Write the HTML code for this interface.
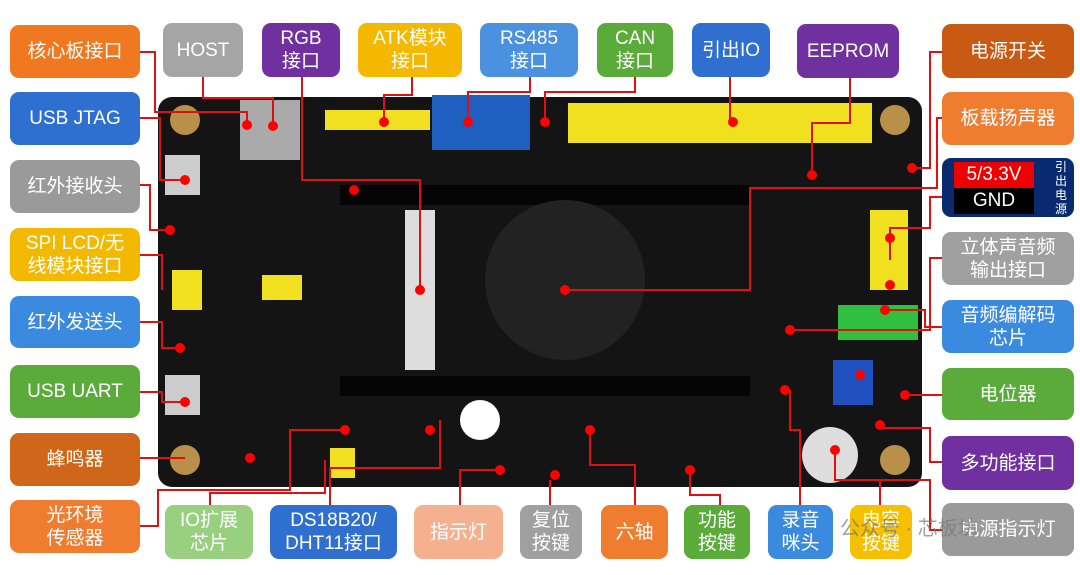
<!DOCTYPE html>
<html><head><meta charset="utf-8"><style>
body{margin:0;width:1080px;height:575px;background:#fff;position:relative;overflow:hidden;font-family:"Liberation Sans","Noto Sans CJK SC",sans-serif}
.l{position:absolute;border-radius:9px;color:#fff;display:flex;align-items:center;justify-content:center;text-align:center;font-size:19px;line-height:23px}
svg{position:absolute;left:0;top:0}
</style></head><body>
<svg width="1080" height="575">
<rect x="158" y="97" width="764" height="390" rx="14" fill="#141414"/>
<rect x="240" y="100" width="60" height="60" fill="#aaa"/>
<rect x="325" y="110" width="105" height="20" fill="#f0e020"/>
<rect x="432" y="95" width="98" height="55" fill="#1f5fc0"/>
<rect x="568" y="103" width="304" height="40" fill="#f0e020"/>
<rect x="340" y="185" width="410" height="20" fill="#050505"/>
<rect x="340" y="376" width="410" height="20" fill="#050505"/>
<rect x="405" y="210" width="30" height="160" fill="#ddd"/>
<circle cx="565" cy="280" r="80" fill="#222"/>
<circle cx="185" cy="120" r="15" fill="#b8904a"/>
<circle cx="895" cy="120" r="15" fill="#b8904a"/>
<circle cx="185" cy="460" r="15" fill="#b8904a"/>
<circle cx="895" cy="460" r="15" fill="#b8904a"/>
<rect x="165" y="155" width="35" height="40" fill="#ccc"/>
<rect x="165" y="375" width="35" height="40" fill="#ccc"/>
<rect x="172" y="270" width="30" height="40" fill="#f0e020"/>
<rect x="262" y="275" width="40" height="25" fill="#f0e020"/>
<rect x="870" y="210" width="38" height="80" fill="#f0e020"/>
<rect x="838" y="305" width="80" height="35" fill="#30c040"/>
<rect x="833" y="360" width="40" height="45" fill="#2050c0"/>
<circle cx="480" cy="420" r="20" fill="#fff"/>
<circle cx="830" cy="455" r="28" fill="#ddd"/>
<rect x="330" y="448" width="25" height="30" fill="#f0e020"/>
<g fill="none" stroke="#e01010" stroke-width="2">
<path d="M140 52H155V112H247V125"/><path d="M140 118H160V180H185"/><path d="M140 185H150V230H170"/>
<path d="M140 255H162V290"/><path d="M140 322H162V348H180"/><path d="M140 392H162V402H185"/>
<path d="M140 458H185"/><path d="M140 526H158V490H290V430H345"/>
<path d="M203 77V98H273V126"/><path d="M302 77V180H420V290"/><path d="M412 77V95H384V122"/>
<path d="M530 77V92H468V122"/><path d="M635 77V92H545V122"/><path d="M730 77V98H730V122"/>
<path d="M850 77V123H812V175"/><path d="M942 52H930V168H912"/><path d="M942 118H937V188H750V290H565"/>
<path d="M942 197H930V228H890V260"/><path d="M942 258H930V330H790"/><path d="M942 327H925V310H885"/>
<path d="M942 395H905"/><path d="M942 462H930V428H880"/><path d="M942 530H930V480H875"/>
<path d="M210 510V493H325V460"/><path d="M330 510V468H440V420"/><path d="M460 510V470H500"/>
<path d="M460 510V480"/><path d="M550 510V480"/><path d="M635 510V465H590V430"/><path d="M720 510V495H690V470"/>
<path d="M800 510V430H790V390"/><path d="M880 510V480H835V450"/>
</g>
<g fill="#f00">
<circle cx="247" cy="125" r="5"/><circle cx="185" cy="180" r="5"/><circle cx="170" cy="230" r="5"/><circle cx="180" cy="348" r="5"/><circle cx="185" cy="402" r="5"/><circle cx="250" cy="458" r="5"/>
<circle cx="273" cy="126" r="5"/><circle cx="354" cy="190" r="5"/><circle cx="420" cy="290" r="5"/><circle cx="384" cy="122" r="5"/><circle cx="468" cy="122" r="5"/><circle cx="545" cy="122" r="5"/><circle cx="733" cy="122" r="5"/><circle cx="812" cy="175" r="5"/><circle cx="912" cy="168" r="5"/><circle cx="565" cy="290" r="5"/><circle cx="890" cy="238" r="5"/><circle cx="890" cy="285" r="5"/><circle cx="790" cy="330" r="5"/><circle cx="885" cy="310" r="5"/><circle cx="860" cy="375" r="5"/><circle cx="905" cy="395" r="5"/><circle cx="785" cy="390" r="5"/><circle cx="345" cy="430" r="5"/><circle cx="430" cy="430" r="5"/><circle cx="500" cy="470" r="5"/><circle cx="555" cy="475" r="5"/><circle cx="590" cy="430" r="5"/><circle cx="690" cy="470" r="5"/><circle cx="835" cy="450" r="5"/><circle cx="880" cy="425" r="5"/>
</g>
</svg>
<div class="l" style="left:10px;top:25px;width:130px;height:53px;background:#f07820">核心板接口</div>
<div class="l" style="left:10px;top:92px;width:130px;height:53px;background:#2f6fd0">USB JTAG</div>
<div class="l" style="left:10px;top:160px;width:130px;height:53px;background:#9a9a9a">红外接收头</div>
<div class="l" style="left:10px;top:228px;width:130px;height:53px;background:#f3b800">SPI LCD/无<br>线模块接口</div>
<div class="l" style="left:10px;top:296px;width:130px;height:52px;background:#3a8ae0">红外发送头</div>
<div class="l" style="left:10px;top:365px;width:130px;height:53px;background:#5aab3a">USB UART</div>
<div class="l" style="left:10px;top:433px;width:130px;height:53px;background:#d0661a">蜂鸣器</div>
<div class="l" style="left:10px;top:500px;width:130px;height:53px;background:#f07c30">光环境<br>传感器</div>
<div class="l" style="left:163px;top:23px;width:80px;height:54px;background:#a5a5a5">HOST</div>
<div class="l" style="left:262px;top:23px;width:78px;height:54px;background:#7030a0">RGB<br>接口</div>
<div class="l" style="left:358px;top:23px;width:104px;height:54px;background:#f5b800">ATK模块<br>接口</div>
<div class="l" style="left:480px;top:23px;width:98px;height:54px;background:#4a92e0">RS485<br>接口</div>
<div class="l" style="left:597px;top:23px;width:76px;height:54px;background:#5aab3a">CAN<br>接口</div>
<div class="l" style="left:692px;top:23px;width:78px;height:54px;background:#2f6fd0">引出IO</div>
<div class="l" style="left:797px;top:24px;width:102px;height:54px;background:#7030a0">EEPROM</div>
<div class="l" style="left:942px;top:24px;width:132px;height:54px;background:#c85a14">电源开关</div>
<div class="l" style="left:942px;top:92px;width:132px;height:53px;background:#f07c30">板载扬声器</div>
<div class="l" style="left:942px;top:158px;width:132px;height:59px;background:#0a2a70"><div style="position:absolute;left:12px;top:4px;width:80px;height:26px;background:#e00;line-height:26px">5/3.3V</div><div style="position:absolute;left:12px;top:30px;width:80px;height:26px;background:#000;line-height:26px">GND</div><div style="position:absolute;right:6px;top:2px;width:14px;font-size:12px;line-height:14px">引出电源</div></div>
<div class="l" style="left:942px;top:232px;width:132px;height:53px;background:#a0a0a0">立体声音频<br>输出接口</div>
<div class="l" style="left:942px;top:300px;width:132px;height:53px;background:#3a8ae0">音频编解码<br>芯片</div>
<div class="l" style="left:942px;top:368px;width:132px;height:52px;background:#5aab3a">电位器</div>
<div class="l" style="left:942px;top:436px;width:132px;height:54px;background:#7030a0">多功能接口</div>
<div class="l" style="left:942px;top:503px;width:132px;height:53px;background:#9a9a9a">电源指示灯</div>
<div class="l" style="left:165px;top:505px;width:88px;height:54px;background:#98d080">IO扩展<br>芯片</div>
<div class="l" style="left:270px;top:505px;width:127px;height:54px;background:#2f6fd0">DS18B20/<br>DHT11接口</div>
<div class="l" style="left:414px;top:505px;width:89px;height:54px;background:#f5b090">指示灯</div>
<div class="l" style="left:520px;top:505px;width:62px;height:54px;background:#a0a0a0">复位<br>按键</div>
<div class="l" style="left:601px;top:505px;width:67px;height:54px;background:#f07c30">六轴</div>
<div class="l" style="left:684px;top:505px;width:66px;height:54px;background:#5aab3a">功能<br>按键</div>
<div class="l" style="left:768px;top:505px;width:65px;height:54px;background:#3a8ae0">录音<br>咪头</div>
<div class="l" style="left:850px;top:505px;width:62px;height:54px;background:#f5c000">电容<br>按键</div>
<div style="position:absolute;left:840px;top:512px;font-size:20px;color:rgba(120,120,120,.7);font-family:'Liberation Sans','Noto Sans CJK SC',sans-serif">公众号 · 芯板坊</div>
</body></html>
